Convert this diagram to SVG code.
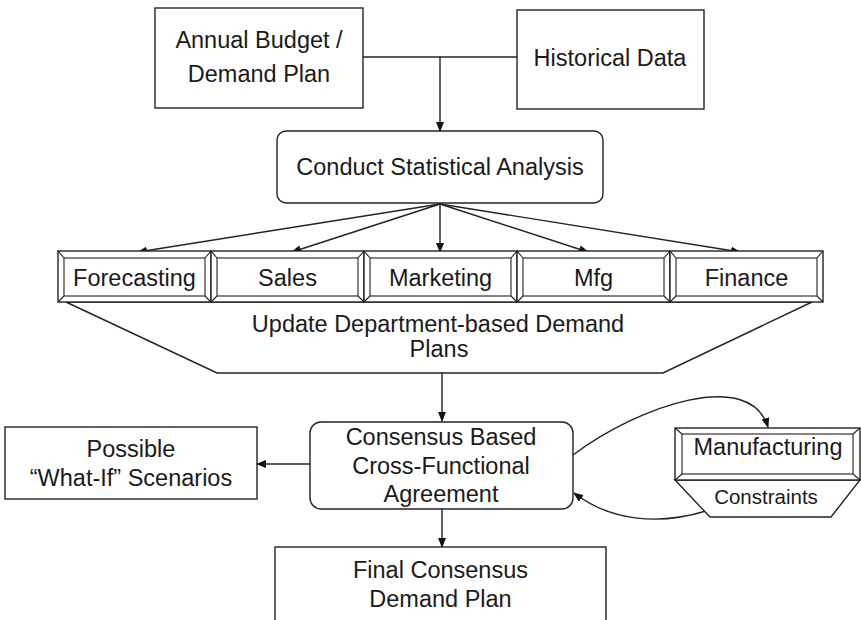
<svg xmlns="http://www.w3.org/2000/svg" width="861" height="620" viewBox="0 0 861 620">
  <style>
    .box { fill: #fff; stroke: #222; stroke-width: 1.4; }
    .bev { fill: none; stroke: #222; stroke-width: 1.1; }
    .lbl { font-family: "Liberation Sans", Arial, sans-serif; font-size: 23.5px; fill: #1a1a1a; text-anchor: middle; }
    .sm { font-size: 20.5px; }
    .con { fill: none; stroke: #222; stroke-width: 1.4; }
  </style>
  <defs>
    <marker id="arr" markerUnits="userSpaceOnUse" markerWidth="10" markerHeight="8" refX="9" refY="4" orient="auto">
      <path d="M0,0 L10,4 L0,8 Z" fill="#111"/>
    </marker>
  </defs>
  <rect width="861" height="620" fill="#fff"/>

  <!-- connectors -->
  <g id="connectors">
    <line class="con" x1="363" y1="57" x2="517" y2="57"/>
    <line class="con" x1="440" y1="57" x2="440" y2="131" marker-end="url(#arr)"/>
    <line class="con" x1="440" y1="204" x2="138" y2="252" marker-end="url(#arr)"/>
    <line class="con" x1="440" y1="204" x2="292" y2="252" marker-end="url(#arr)"/>
    <line class="con" x1="440" y1="204" x2="440" y2="252" marker-end="url(#arr)"/>
    <line class="con" x1="440" y1="204" x2="588" y2="252" marker-end="url(#arr)"/>
    <line class="con" x1="440" y1="204" x2="740" y2="252" marker-end="url(#arr)"/>
    <line class="con" x1="442" y1="373" x2="442" y2="421" marker-end="url(#arr)"/>
    <line class="con" x1="442" y1="509" x2="442" y2="547" marker-end="url(#arr)"/>
    <line class="con" x1="310" y1="464" x2="257" y2="464" marker-end="url(#arr)"/>
    <path class="con" d="M573,455 C640,405 750,368 768,427" marker-end="url(#arr)"/>
    <path class="con" d="M706,511 C660,525 612,522 574,493" marker-end="url(#arr)"/>
  </g>

  <g id="annual-budget">
    <rect class="box" x="155" y="8" width="208" height="100"/>
    <text class="lbl" x="259" y="48">Annual Budget /</text>
    <text class="lbl" x="259" y="82">Demand Plan</text>
  </g>

  <g id="historical-data">
    <rect class="box" x="517" y="10" width="187" height="99"/>
    <text class="lbl" x="610" y="66">Historical Data</text>
  </g>

  <g id="statistical-analysis">
    <rect class="box" x="277" y="131" width="326" height="72" rx="9"/>
    <text class="lbl" x="440" y="175">Conduct Statistical Analysis</text>
  </g>

  <g id="department-plans">
    <polygon class="box" points="66,302 812,302 663,373 217,373"/>
    <text class="lbl" x="438" y="332">Update Department-based Demand</text>
    <text class="lbl" x="439" y="357">Plans</text>
  </g>

  <g id="forecasting">
    <rect class="box" x="58" y="251" width="153" height="51"/>
    <rect class="bev" x="64" y="258" width="141" height="38"/>
    <path class="bev" d="M58,251 L64,258 M211,251 L205,258 M58,302 L64,296 M211,302 L205,296"/>
    <text class="lbl" x="134.5" y="286">Forecasting</text>
  </g>
  <g id="sales">
    <rect class="box" x="211" y="251" width="153" height="51"/>
    <rect class="bev" x="217" y="258" width="141" height="38"/>
    <path class="bev" d="M211,251 L217,258 M364,251 L358,258 M211,302 L217,296 M364,302 L358,296"/>
    <text class="lbl" x="287.5" y="286">Sales</text>
  </g>
  <g id="marketing">
    <rect class="box" x="364" y="251" width="153" height="51"/>
    <rect class="bev" x="370" y="258" width="141" height="38"/>
    <path class="bev" d="M364,251 L370,258 M517,251 L511,258 M364,302 L370,296 M517,302 L511,296"/>
    <text class="lbl" x="440.5" y="286">Marketing</text>
  </g>
  <g id="mfg">
    <rect class="box" x="517" y="251" width="153" height="51"/>
    <rect class="bev" x="523" y="258" width="141" height="38"/>
    <path class="bev" d="M517,251 L523,258 M670,251 L664,258 M517,302 L523,296 M670,302 L664,296"/>
    <text class="lbl" x="593.5" y="286">Mfg</text>
  </g>
  <g id="finance">
    <rect class="box" x="670" y="251" width="153" height="51"/>
    <rect class="bev" x="676" y="258" width="141" height="38"/>
    <path class="bev" d="M670,251 L676,258 M823,251 L817,258 M670,302 L676,296 M823,302 L817,296"/>
    <text class="lbl" x="746.5" y="286">Finance</text>
  </g>

  <g id="what-if">
    <rect class="box" x="5" y="427" width="252" height="72"/>
    <text class="lbl" x="131" y="457">Possible</text>
    <text class="lbl" x="131" y="486">“What-If” Scenarios</text>
  </g>

  <g id="consensus">
    <rect class="box" x="310" y="422" width="263" height="87" rx="11"/>
    <text class="lbl" x="441" y="445">Consensus Based</text>
    <text class="lbl" x="441" y="474">Cross-Functional</text>
    <text class="lbl" x="441" y="502">Agreement</text>
  </g>

  <g id="manufacturing-constraints">
    <polygon class="box" points="675,480 860,480 831,517 710,517"/>
    <rect class="box" x="675" y="428" width="185" height="52"/>
    <rect class="bev" x="682" y="434" width="171" height="40"/>
    <path class="bev" d="M675,428 L682,434 M860,428 L853,434 M675,480 L682,474 M860,480 L853,474"/>
    <text class="lbl" x="768" y="455">Manufacturing</text>
    <text class="lbl sm" x="766" y="504">Constraints</text>
  </g>

  <g id="final-plan">
    <rect class="box" x="275" y="547" width="331" height="80"/>
    <text class="lbl" x="440.5" y="578">Final Consensus</text>
    <text class="lbl" x="440.5" y="607">Demand Plan</text>
  </g>
</svg>
